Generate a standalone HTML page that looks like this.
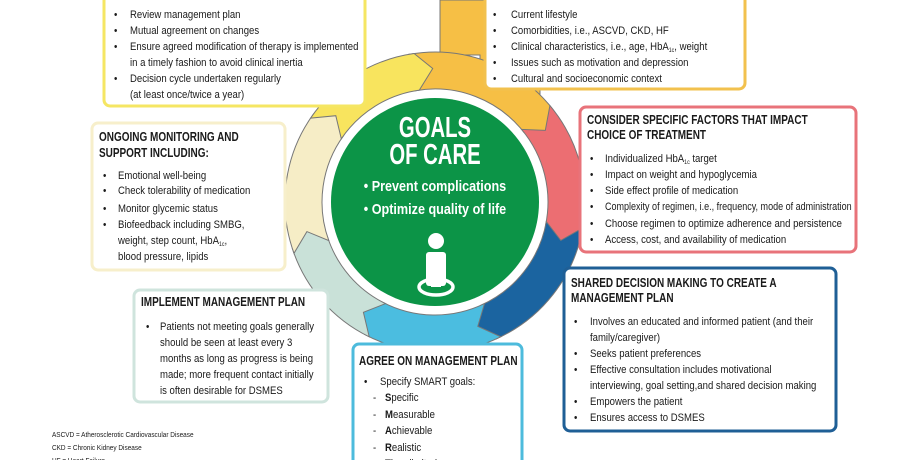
<!DOCTYPE html>
<html><head><meta charset="utf-8"><style>
body{margin:0;background:#fff;}
svg{display:block;}
text{font-family:"Liberation Sans Narrow","Liberation Sans",sans-serif;fill:#1a1a1a;}
.t text{font-size:11px;}
text.h{font-size:12.5px;font-weight:bold;}
.f text{font-size:7.5px;}
</style></head><body>
<svg id="s" width="903" height="460" viewBox="0 0 903 460" xmlns="http://www.w3.org/2000/svg">
<g stroke="#777" stroke-width="1">
<path d="M440 0 L540 0 L540 95 L480 95 L480 55 L440 55 Z" fill="#f6bf45"/>
<g id="ring"></g>
</g>
<circle cx="435" cy="202" r="111" fill="#fff"/>
<circle cx="435" cy="202" r="104" fill="#0c9447"/>
<text data-s="0.7" x="435" y="137" text-anchor="middle" style="font-size:29px;font-weight:bold;fill:#fff">GOALS</text>
<text data-s="0.7" x="435" y="164" text-anchor="middle" style="font-size:29px;font-weight:bold;fill:#fff">OF CARE</text>
<text data-s="0.87" x="435" y="191" text-anchor="middle" style="font-size:14.5px;font-weight:bold;fill:#fff">• Prevent complications</text>
<text data-s="0.87" x="435" y="214" text-anchor="middle" style="font-size:14.5px;font-weight:bold;fill:#fff">• Optimize quality of life</text>
<ellipse cx="436" cy="287" rx="17" ry="8" fill="none" stroke="#fff" stroke-width="3.5"/>
<circle cx="436" cy="241" r="8" fill="#fff"/>
<rect x="426" y="252" width="20" height="34" rx="3" fill="#fff"/>
<rect x="431" y="270" width="10" height="17" fill="#fff"/>

<rect x="104" y="-10" width="261" height="116" rx="6" fill="#fff" stroke="#f5e663" stroke-width="3"/>
<g class="t">
<text x="114" y="18">•</text><text x="130" y="18">Review management plan</text>
<text x="114" y="34">•</text><text x="130" y="34">Mutual agreement on changes</text>
<text x="114" y="50">•</text><text x="130" y="50">Ensure agreed modification of therapy is implemented</text>
<text x="130" y="66">in a timely fashion to avoid clinical inertia</text>
<text x="114" y="82">•</text><text x="130" y="82">Decision cycle undertaken regularly</text>
<text x="130" y="98">(at least once/twice a year)</text>
</g>
<rect x="92" y="123" width="193" height="147" rx="6" fill="#fff" stroke="#f7efcb" stroke-width="3"/>
<text class="h" x="99" y="141">ONGOING MONITORING AND</text>
<text class="h" x="99" y="157">SUPPORT INCLUDING:</text>
<g class="t">
<text x="103" y="179">•</text><text x="118" y="179">Emotional well-being</text>
<text x="103" y="194">•</text><text x="118" y="194">Check tolerability of medication</text>
<text x="103" y="212">•</text><text x="118" y="212">Monitor glycemic status</text>
<text x="103" y="228">•</text><text x="118" y="228">Biofeedback including SMBG,</text>
<text x="118" y="244">weight, step count, HbA<tspan font-size="6" dy="2">1c</tspan><tspan dy="-2">,</tspan></text>
<text x="118" y="260">blood pressure, lipids</text>
</g>
<rect x="485" y="-10" width="260" height="99" rx="6" fill="#fff" stroke="#f2c14e" stroke-width="3"/>
<g class="t">
<text x="493" y="18">•</text><text x="511" y="18">Current lifestyle</text>
<text x="493" y="34">•</text><text x="511" y="34">Comorbidities, i.e., ASCVD, CKD, HF</text>
<text x="493" y="50">•</text><text x="511" y="50">Clinical characteristics, i.e., age, HbA<tspan font-size="6" dy="2">1c</tspan><tspan dy="-2">, weight</tspan></text>
<text x="493" y="66">•</text><text x="511" y="66">Issues such as motivation and depression</text>
<text x="493" y="82">•</text><text x="511" y="82">Cultural and socioeconomic context</text>
</g>
<rect x="580" y="107" width="276" height="145" rx="6" fill="#fff" stroke="#e8737a" stroke-width="3"/>
<text class="h" x="587" y="124">CONSIDER SPECIFIC FACTORS THAT IMPACT</text>
<text class="h" x="587" y="139">CHOICE OF TREATMENT</text>
<g class="t">
<text x="590" y="162">•</text><text x="605" y="162">Individualized HbA<tspan font-size="6" dy="2">1c</tspan><tspan dy="-2"> target</tspan></text>
<text x="590" y="178">•</text><text x="605" y="178">Impact on weight and hypoglycemia</text>
<text x="590" y="194">•</text><text x="605" y="194">Side effect profile of medication</text>
<text x="590" y="210">•</text><text data-s="0.82" x="605" y="210">Complexity of regimen, i.e., frequency, mode of administration</text>
<text x="590" y="227">•</text><text x="605" y="227">Choose regimen to optimize adherence and persistence</text>
<text x="590" y="243">•</text><text x="605" y="243">Access, cost, and availability of medication</text>
</g>
<rect x="564" y="268" width="272" height="163" rx="6" fill="#fff" stroke="#1f5f96" stroke-width="3"/>
<text class="h" x="571" y="287">SHARED DECISION MAKING TO CREATE A</text>
<text class="h" x="571" y="302">MANAGEMENT PLAN</text>
<g class="t">
<text x="574" y="325">•</text><text x="590" y="325">Involves an educated and informed patient (and their</text>
<text x="590" y="341">family/caregiver)</text>
<text x="574" y="357">•</text><text x="590" y="357">Seeks patient preferences</text>
<text x="574" y="373">•</text><text x="590" y="373">Effective consultation includes motivational</text>
<text x="590" y="389">interviewing, goal setting,and shared decision making</text>
<text x="574" y="405">•</text><text x="590" y="405">Empowers the patient</text>
<text x="574" y="421">•</text><text x="590" y="421">Ensures access to DSMES</text>
</g>
<rect x="134" y="290" width="194" height="112" rx="6" fill="#fff" stroke="#cfe4dd" stroke-width="3"/>
<text class="h" x="141" y="306">IMPLEMENT MANAGEMENT PLAN</text>
<g class="t">
<text x="146" y="330">•</text><text x="160" y="330">Patients not meeting goals generally</text>
<text x="160" y="346">should be seen at least every 3</text>
<text x="160" y="362">months as long as progress is being</text>
<text x="160" y="378">made; more frequent contact initially</text>
<text x="160" y="394">is often desirable for DSMES</text>
</g>
<rect x="353" y="344" width="169" height="130" rx="6" fill="#fff" stroke="#4dbbdc" stroke-width="3"/>
<text class="h" x="359" y="365">AGREE ON MANAGEMENT PLAN</text>
<g class="t">
<text x="364" y="385">•</text><text x="380" y="385">Specify SMART goals:</text>
<text x="373" y="401">-</text><text x="385" y="401"><tspan font-weight="bold">S</tspan>pecific</text>
<text x="373" y="418">-</text><text x="385" y="418"><tspan font-weight="bold">M</tspan>easurable</text>
<text x="373" y="434">-</text><text x="385" y="434"><tspan font-weight="bold">A</tspan>chievable</text>
<text x="373" y="451">-</text><text x="385" y="451"><tspan font-weight="bold">R</tspan>ealistic</text>
<text x="373" y="467">-</text><text x="385" y="467"><tspan font-weight="bold">T</tspan>ime-limited</text>
</g>
<g class="f">
<text x="52" y="437">ASCVD = Atherosclerotic Cardiovascular Disease</text>
<text x="52" y="450">CKD = Chronic Kidney Disease</text>
<text x="52" y="463">HF = Heart Failure</text>
</g>
</svg>
<script>
(function(){
 var cx=435,cy=202,ri=113,ro=150;
 var segs=[[-100,-38,"#f6bf45"],[-40,12,"#ec6e72"],[10,66,"#1b64a0"],[64,118,"#4bbde0"],[116,162,"#c9e1d8"],[160,216,"#f6edc6"],[214,262,"#f8e45e"]];
 var g=document.getElementById("ring"),ns="http://www.w3.org/2000/svg";
 function p(r,a){a=a*Math.PI/180;return [(cx+r*Math.cos(a)).toFixed(1),(cy+r*Math.sin(a)).toFixed(1)];}
 segs.forEach(function(s){
  var a0=s[0],a1=s[1],rm=(ri+ro)/2;
  var A=p(ro,a0),B=p(ro,a1),T=p(rm+2,a1+7),C=p(ri,a1),D=p(ri,a0),N=p(rm,a0+7);
  var d="M"+A+" A"+ro+" "+ro+" 0 0 1 "+B+" L"+T+" L"+C+" A"+ri+" "+ri+" 0 0 0 "+D+" L"+N+" Z";
  var e=document.createElementNS(ns,"path");e.setAttribute("d",d);e.setAttribute("fill",s[2]);g.appendChild(e);
 });
 var ts=document.querySelectorAll("#s text");
 for(var i=0;i<ts.length;i++){
  var t=ts[i],k;
  if(t.getAttribute("data-s")) k=parseFloat(t.getAttribute("data-s"));
  else if(t.classList.contains("h")) k=0.8;
  else if(t.parentNode.classList.contains("f")) k=0.86;
  else k=0.87;
  var x=parseFloat(t.getAttribute("x"));
  t.setAttribute("transform","translate("+x+",0) scale("+k+",1) translate("+(-x)+",0)");
 }
})();
</script>
</body></html>
